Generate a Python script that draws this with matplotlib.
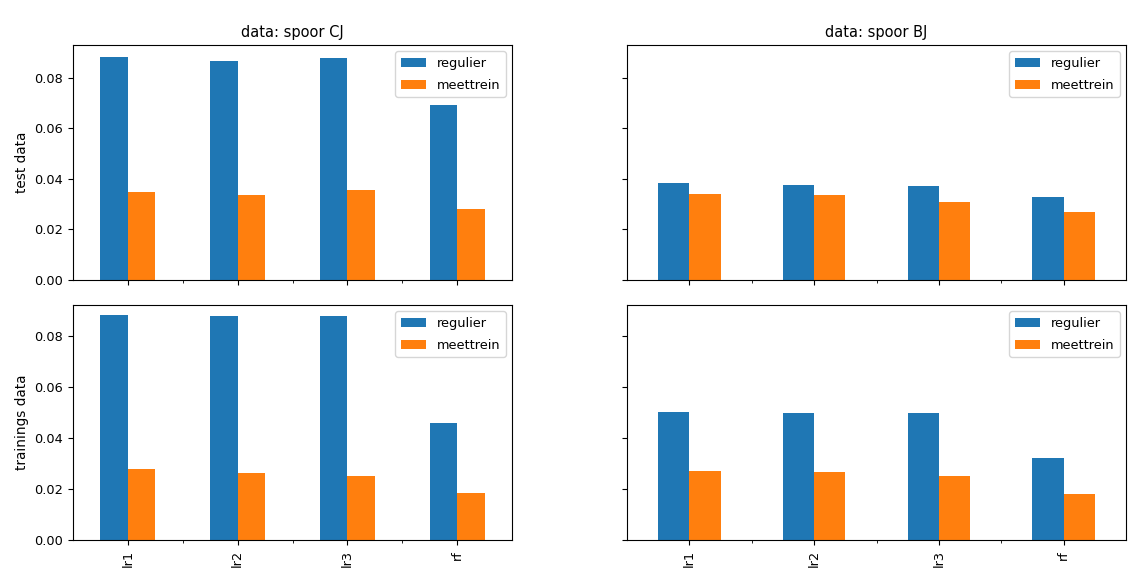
import numpy as np
import matplotlib
matplotlib.use('Agg')
import matplotlib.pyplot as plt

models = ['lr1', 'lr2', 'lr3', 'rf']
series = ['regulier', 'meettrein']

# test data
test_CJ_regulier = [0.0880, 0.0867, 0.0876, 0.0693]
test_CJ_meettrein = [0.0347, 0.0336, 0.0356, 0.0281]
test_BJ_regulier = [0.0382, 0.0374, 0.0373, 0.0328]
test_BJ_meettrein = [0.0340, 0.0336, 0.0307, 0.0269]

# trainings data
train_CJ_regulier = [0.0881, 0.0877, 0.0877, 0.0460]
train_CJ_meettrein = [0.0280, 0.0261, 0.0252, 0.0186]
train_BJ_regulier = [0.0501, 0.0498, 0.0498, 0.0320]
train_BJ_meettrein = [0.0271, 0.0267, 0.0251, 0.0180]

W, H = 1145, 578
fig = plt.figure(figsize=(W / 100, H / 100), dpi=100)

fs = 9.3


def box(x0, y0, x1, y1):
    return [x0 / W, 1 - y1 / H, (x1 - x0) / W, (y1 - y0) / H]


ax_tl = fig.add_axes(box(73, 45, 512, 280))
ax_tr = fig.add_axes(box(627, 45, 1126, 280), sharey=ax_tl)
ax_bl = fig.add_axes(box(73, 305, 512, 540))
ax_br = fig.add_axes(box(627, 305, 1126, 540), sharey=ax_bl)

panels = [
    (ax_tl, test_CJ_regulier, test_CJ_meettrein),
    (ax_tr, test_BJ_regulier, test_BJ_meettrein),
    (ax_bl, train_CJ_regulier, train_CJ_meettrein),
    (ax_br, train_BJ_regulier, train_BJ_meettrein),
]

x = np.arange(len(models))
w = 0.25
for ax, reg, meet in panels:
    ax.bar(x - w / 2, reg, w, color='#1f77b4', label=series[0])
    ax.bar(x + w / 2, meet, w, color='#ff7f0e', label=series[1])
    ax.set_xlim(-0.5, len(models) - 0.5)
    ax.set_xticks(x)
    ax.set_xticks(x[:-1] + 0.5, minor=True)
    ax.tick_params(labelsize=fs)
    ax.legend(loc='upper right', fontsize=fs, labelspacing=0.7)

for ax in (ax_tl, ax_tr):
    ax.set_xticklabels([])
for ax in (ax_bl, ax_br):
    ax.set_xticklabels(models, rotation=90)
for ax in (ax_tr, ax_br):
    ax.tick_params(axis='y', labelleft=False)

ax_tl.set_ylim(0, 0.0929)
ax_bl.set_ylim(0, 0.0922)
ax_tl.set_yticks([0, 0.02, 0.04, 0.06, 0.08])
ax_bl.set_yticks([0, 0.02, 0.04, 0.06, 0.08])

ax_tl.set_title('data: spoor CJ', fontsize=10.5)
ax_tr.set_title('data: spoor BJ', fontsize=10.5)
ax_tl.set_ylabel('test data', fontsize=9.8)
ax_bl.set_ylabel('trainings data', fontsize=9.8)

fig.savefig('out.png', dpi=100)
